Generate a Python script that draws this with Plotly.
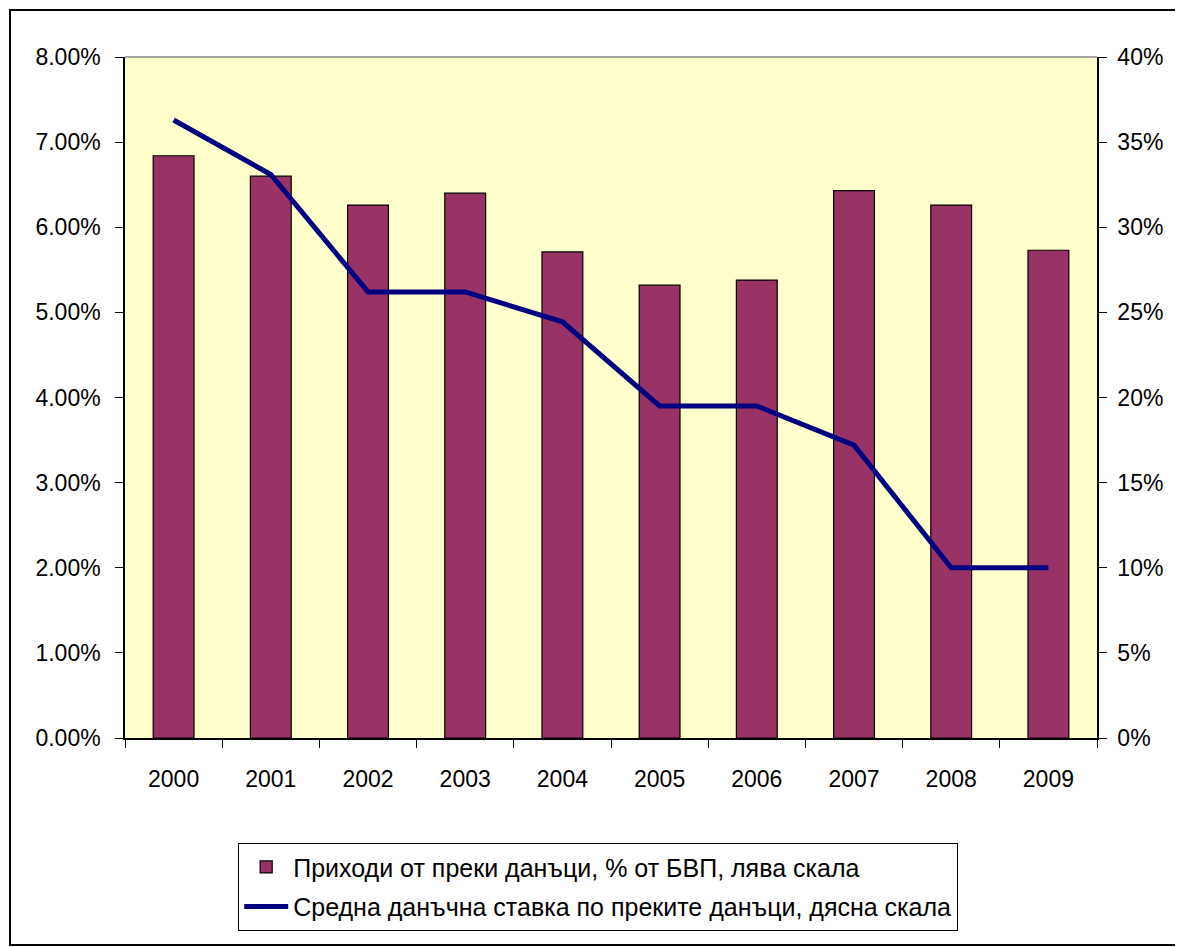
import plotly.graph_objects as go

years = ["2000", "2001", "2002", "2003", "2004", "2005", "2006", "2007", "2008", "2009"]
revenue_pct_gdp = [0.0684, 0.0660, 0.0626, 0.0640, 0.0571, 0.0532, 0.0538, 0.0643, 0.0626, 0.0573]
avg_tax_rate = [0.363, 0.331, 0.262, 0.262, 0.2445, 0.195, 0.195, 0.172, 0.10, 0.10]

bar_name = "Приходи от преки данъци, % от БВП, лява скала"
line_name = "Средна данъчна ставка по преките данъци, дясна скала"

FONT = "Liberation Sans, Arial, sans-serif"

# page is offset by the default 8px body margin; work in figure coords
OFF = 8
W, H = 1175, 939
L, T = 125 - OFF, 57 - OFF
R = W - (1097 - OFF)
B = H - (738 - OFF)
pw, ph = W - L - R, H - T - B

def px(xpage):
    return (xpage - OFF - L) / pw

def py(ypage):
    return (H - B - (ypage - OFF)) / ph

fig = go.Figure()
fig.add_trace(go.Bar(
    x=years, y=revenue_pct_gdp, name=bar_name, yaxis="y",
    marker=dict(color="#993366", line=dict(color="black", width=1.2)),
    width=0.42, legendgroup="a",
))
fig.add_trace(go.Scatter(
    x=years, y=avg_tax_rate, name=line_name, yaxis="y2", mode="lines",
    line=dict(color="#000080", width=5), legendgroup="b",
))

fig.update_layout(
    width=W, height=H,
    margin=dict(l=L, r=R, t=T, b=B),
    paper_bgcolor="white",
    plot_bgcolor="#FFFFCC",
    font=dict(family=FONT, size=23, color="black"),
    xaxis=dict(
        type="category", showgrid=False, showline=True, linecolor="black", linewidth=1.5,
        ticks="outside", tickson="boundaries", ticklen=8, tickcolor="black",
        tickfont=dict(size=23, family=FONT), range=[-0.5, 9.5], ticklabelstandoff=20,
    ),
    yaxis=dict(
        range=[0, 0.08], dtick=0.01, tickformat=".2%", showgrid=False, zeroline=False,
        showline=True, linecolor="black", linewidth=1.5, ticks="outside", ticklen=8,
        tickcolor="black", tickfont=dict(size=23, family=FONT), ticklabelstandoff=10,
    ),
    yaxis2=dict(
        range=[0, 0.40], dtick=0.05, tickformat=".0%", showgrid=False, zeroline=False,
        overlaying="y", side="right",
        showline=True, linecolor="black", linewidth=1.5, ticks="outside", ticklen=8,
        tickcolor="black", tickfont=dict(size=23, family=FONT), ticklabelstandoff=6,
    ),
    legend=dict(
        x=px(238), y=py(843), xanchor="left", yanchor="top",
        bordercolor="black", borderwidth=1.2, bgcolor="white",
        font=dict(size=25, family=FONT), tracegroupgap=4, itemwidth=44,
    ),
    showlegend=True,
)

# top border of plot area
fig.add_shape(type="line", xref="paper", yref="paper", x0=0, x1=1, y0=1, y1=1,
              line=dict(color="#888888", width=1.5))
# outer chart border
fig.add_shape(type="rect", xref="paper", yref="paper",
              x0=px(10), x1=px(1195), y0=py(945), y1=py(10),
              line=dict(color="black", width=2), layer="below")

fig.write_html("out.html")
